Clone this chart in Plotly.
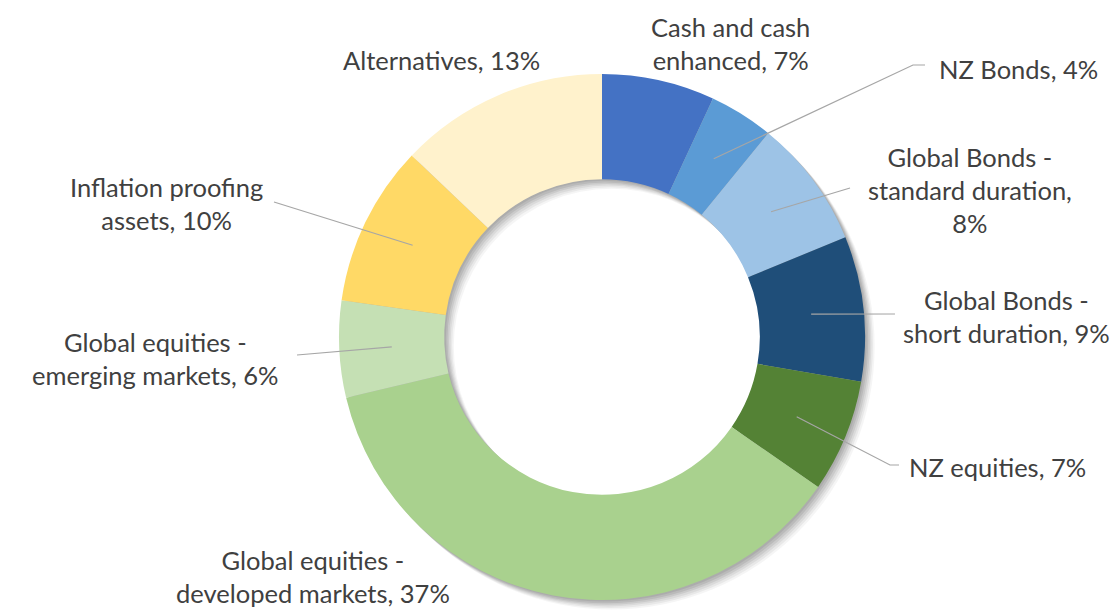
import math
import plotly.graph_objects as go

# ---- data ----
categories = [
    "Cash and cash enhanced",
    "NZ Bonds",
    "Global Bonds - standard duration",
    "Global Bonds - short duration",
    "NZ equities",
    "Global equities - developed markets",
    "Global equities - emerging markets",
    "Inflation proofing assets",
    "Alternatives",
]
values = [7, 4, 8, 9, 7, 37, 6, 10, 13]
label_prefix = [
    "Cash and cash<br>enhanced, ",
    "NZ Bonds, ",
    "Global Bonds -<br>standard duration,<br>",
    "Global Bonds -<br>short duration, ",
    "NZ equities, ",
    "Global equities -<br>developed markets, ",
    "Global equities -<br>emerging markets, ",
    "Inflation proofing<br>assets, ",
    "Alternatives, ",
]
colors = ["#4472C4", "#5B9BD5", "#9DC3E6", "#1F4E79", "#548235",
          "#A9D18E", "#C5E0B4", "#FFD966", "#FFF2CC"]

# ---- layout geometry (pixels) ----
W, H = 1116, 613
CX, CY, R = 602, 337, 263
HOLE = 0.6

# label centres and leader-line elbows (pixels)
label_pos = [(730, 44), (1018, 69), (970, 190), (1006, 316), (998, 467),
             (313, 576), (155, 358), (166, 204), (441, 60)]
leader_pts = [None, [(913, 65), (925, 65)], [(850, 188)], [(895, 314)],
              [(890, 465), (899, 465)], None, [(297, 355)], [(274, 202)], None]


def px(x, y):
    return x / W, 1 - y / H


def domain(cx, cy, r):
    x0, y1 = px(cx - r, cy - r)
    x1, y0 = px(cx + r, cy + r)
    return dict(x=[x0, x1], y=[y0, y1])


fig = go.Figure()

# soft drop shadow (stacked offset rings)
for off, a in [(12, 0.04), (10, 0.05), (8, 0.06), (6, 0.07), (4, 0.08), (2, 0.07)]:
    fig.add_trace(go.Pie(values=[1], domain=domain(CX + off * 0.8, CY + off * 0.8, R), hole=HOLE,
                         marker=dict(colors=[f"rgba(0,0,0,{a})"], line=dict(width=0)),
                         textinfo="none", hoverinfo="skip", showlegend=False, sort=False))

fig.add_trace(go.Pie(
    labels=categories, values=values, domain=domain(CX, CY, R), hole=HOLE,
    sort=False, direction="clockwise", rotation=0,
    marker=dict(colors=colors, line=dict(width=0)),
    textinfo="none", showlegend=False,
))

total = sum(values)
cum = 0
shapes = []
annotations = []
rmid = R * (1 + HOLE) / 2
for i, v in enumerate(values):
    mid = (cum + v / 2) / total * 2 * math.pi
    cum += v
    ax, ay = CX + rmid * math.sin(mid), CY - rmid * math.cos(mid)
    if leader_pts[i]:
        pts = [(ax, ay)] + leader_pts[i]
        path = "M " + " L ".join(f"{px(x, y)[0]},{px(x, y)[1]}" for x, y in pts)
        shapes.append(dict(type="path", path=path, xref="paper", yref="paper",
                           line=dict(color="#A6A6A6", width=1.2)))
    lx, ly = px(*label_pos[i])
    annotations.append(dict(
        x=lx, y=ly, xref="paper", yref="paper", showarrow=False,
        text=f"{label_prefix[i]}{v}%", align="center",
        xanchor="center", yanchor="middle",
        font=dict(family="Lato", size=25.5, color="#404040"),
    ))

fig.update_layout(
    width=W, height=H, margin=dict(l=0, r=0, t=0, b=0),
    paper_bgcolor="white", plot_bgcolor="white",
    shapes=shapes, annotations=annotations, showlegend=False,
)
fig.write_html("out.html", config={"displayModeBar": False},
               post_script="document.body.style.margin='0';")
